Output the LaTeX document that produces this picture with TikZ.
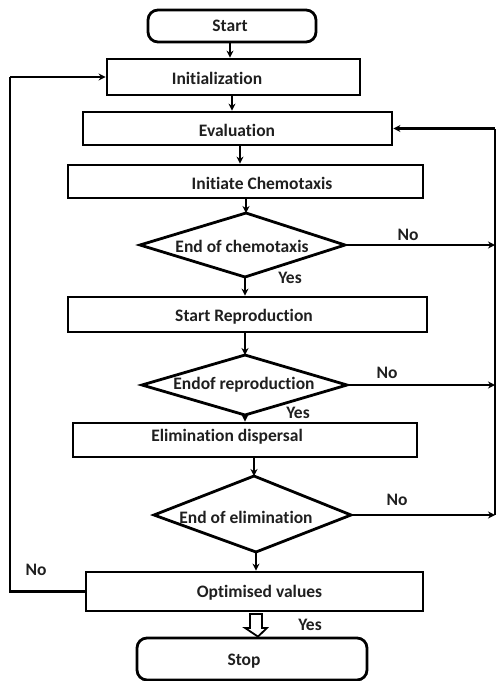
\documentclass[tikz,border=0pt]{standalone}
\usepackage{fontspec}
\setmainfont{Carlito}[Ligatures={NoCommon}]
\usetikzlibrary{arrows.meta,calc}
\begin{document}
\begin{tikzpicture}[x=1pt,y=-1pt,
  txt/.style={font=\fontsize{17.5}{20}\selectfont\bfseries, text=black!88, inner sep=0pt},
  box/.style={draw, line width=2.8pt, inner sep=0pt},
  term/.style={box, rounded corners=10pt},
  dia/.style={line width=2.8pt, line join=miter},
  flow/.style={line width=2.6pt, -{Stealth[length=7pt,width=7pt]}},
  line/.style={line width=2.6pt}]
\useasboundingbox (0,0) rectangle (498,681);

% process boxes
\node[term, minimum width=168pt, minimum height=32pt] (start) at (232,26) {};
\node[txt] (startT) at (230,26) {Start};
\node[box, minimum width=253pt, minimum height=36pt] (init) at (233.5,77) {};
\node[txt] (initT) at (217,78) {Initialization};
\node[box, minimum width=309pt, minimum height=33pt] (eval) at (237.5,128.5) {};
\node[txt] (evalT) at (237,130) {Evaluation};
\node[box, minimum width=355pt, minimum height=33pt] (chemo) at (245.5,181.5) {};
\node[txt] (chemoT) at (262,183) {Initiate Chemotaxis};

% diamond 1
\coordinate (d1t) at (246,213);
\coordinate (d1r) at (345,245);
\coordinate (d1b) at (245,277);
\coordinate (d1l) at (140,245);
\draw[dia] (d1t) -- (d1r) -- (d1b) -- (d1l) -- cycle;
\node[txt] (d1T) at (242,246) {End of chemotaxis};

\node[box, minimum width=359pt, minimum height=35pt] (sr) at (247.5,314.5) {};
\node[txt] (srT) at (244,317) {Start Reproduction};

% diamond 2
\coordinate (d2t) at (245,355);
\coordinate (d2r) at (347,385);
\coordinate (d2b) at (245,415);
\coordinate (d2l) at (142,385);
\draw[dia] (d2t) -- (d2r) -- (d2b) -- (d2l) -- cycle;
\node[txt] (d2T) at (244,385) {Endof reproduction};

\node[box, minimum width=344pt, minimum height=34pt] (elim) at (245,440) {};
\node[txt] (elimT) at (227,437) {Elimination dispersal};

% diamond 3
\coordinate (d3t) at (254,476);
\coordinate (d3r) at (351,515);
\coordinate (d3b) at (256,552);
\coordinate (d3l) at (154,515);
\draw[dia] (d3t) -- (d3r) -- (d3b) -- (d3l) -- cycle;
\node[txt] (d3T) at (246,517) {End of elimination};

\node[box, minimum width=337pt, minimum height=39pt] (opt) at (254.5,591.5) {};
\node[txt] (optT) at (259.5,593) {Optimised values};
\node[term, minimum width=230pt, minimum height=42pt] (stop) at (252,659) {};
\node[txt] (stopT) at (244,661) {Stop};

% labels
\node[txt] (no1) at (408,235) {No};
\node[txt] (yes1) at (290,278) {Yes};
\node[txt] (no2) at (387,373) {No};
\node[txt] (yes2) at (298,413) {Yes};
\node[txt] (no3) at (397,500) {No};
\node[txt] (no4) at (36,570) {No};
\node[txt] (yes4) at (310,625) {Yes};

% side rails
\coordinate (lx) at (10,0);
\coordinate (rx) at (495,0);

% main flow
\draw[flow] (start.south -| initT.north) ++(13,0) coordinate (a0) -- (a0 |- init.north);
\draw[flow] ($(init.south)+(-1.5,0)$) coordinate (a1) -- (a1 |- eval.north);
\draw[flow] ($(eval.south)+(2.5,0)$) coordinate (a2) -- (a2 |- chemo.north);
\draw[flow] (d1t |- chemo.south) -- (d1t);
\draw[flow] (d1b) -- (d1b |- sr.north);
\draw[flow] (d2t |- sr.south) -- (d2t);
\draw[flow] (d2b) -- (d2b |- elim.north);
\draw[flow] (d3t |- elim.south) -- (d3t);
\draw[flow] (d3b) -- (d3b |- opt.north);

% block arrow optimised -> stop
\draw[line width=1.8pt, fill=white, line join=miter]
  ($(opt.south)+(0,1.5)$) ++(-0.5,0) coordinate (ba)
  (ba) ++(-4,0) -- ++(0,14) -- ++(-5,0) -- ($(ba |- stop.north)+(4,0)$)
  -- ($(ba)+(13,14)$) -- ++(-5,0) -- ($(ba)+(8,0)$) -- cycle;

% No branches to the right rail
\draw[flow] (d1r) -- (d1r -| rx);
\draw[flow] (d2r) -- (d2r -| rx);
\draw[flow] (d3r) -- (d3r -| rx);
\draw[line] (d3r -| rx) -- (eval.east -| rx);
\draw[flow] (eval.east -| rx) -- (eval.east);

% left feedback
\draw[line] (opt.west) -- (opt.west -| lx) -- (init.west -| lx);
\draw[flow] (init.west -| lx) -- (init.west);
\end{tikzpicture}
\end{document}
